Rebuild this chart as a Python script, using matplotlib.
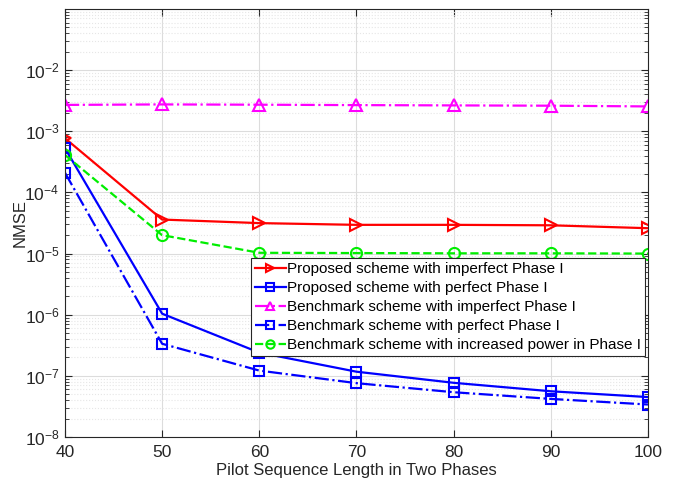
import matplotlib
matplotlib.use("Agg")
import matplotlib.pyplot as plt
import numpy as np

pilot_len = [40, 50, 60, 70, 80, 90, 100]
proposed_imperfect = [7.7e-4, 3.6e-5, 3.15e-5, 2.95e-5, 2.95e-5, 2.9e-5, 2.6e-5]
proposed_perfect = [5.3e-4, 1.04e-6, 2.4e-7, 1.17e-7, 7.7e-8, 5.6e-8, 4.5e-8]
benchmark_imperfect = [2.7e-3, 2.75e-3, 2.72e-3, 2.68e-3, 2.65e-3, 2.62e-3, 2.55e-3]
benchmark_perfect = [2.1e-4, 3.35e-7, 1.22e-7, 7.6e-8, 5.4e-8, 4.2e-8, 3.4e-8]
benchmark_increased = [4.1e-4, 2.0e-5, 1.03e-5, 1.02e-5, 1.01e-5, 1.01e-5, 1.0e-5]

labels = [
    "Proposed scheme with imperfect Phase I",
    "Proposed scheme with perfect Phase I",
    "Benchmark scheme with imperfect Phase I",
    "Benchmark scheme with perfect Phase I",
    "Benchmark scheme with increased power in Phase I",
]

plt.rcParams['font.family'] = ['Liberation Sans', 'DejaVu Sans']
plt.rcParams['mathtext.fontset'] = 'custom'
plt.rcParams['mathtext.rm'] = 'Liberation Sans'
plt.rcParams['mathtext.it'] = 'Liberation Sans'
plt.rcParams['mathtext.default'] = 'regular'

fig = plt.figure(figsize=(6.81, 4.86), dpi=100)
ax = fig.add_axes([0.0954, 0.1008, 0.8561, 0.8807])

lw = 1.6
ms = 8
ax.plot(pilot_len, proposed_imperfect, color='#ff0000', ls='-', marker='>', mfc='none', mew=1.5, ms=ms, lw=lw, label=labels[0])
ax.plot(pilot_len, proposed_perfect, color='#0000ff', ls='-', marker='s', mfc='none', mew=1.5, ms=7, lw=lw, label=labels[1])
ax.plot(pilot_len, benchmark_imperfect, color='#ff00ff', ls='-.', marker='^', mfc='none', mew=1.5, ms=ms, lw=lw, label=labels[2])
ax.plot(pilot_len, benchmark_perfect, color='#0000ff', ls='-.', marker='s', mfc='none', mew=1.5, ms=7, lw=lw, label=labels[3])
ax.plot(pilot_len, benchmark_increased, color='#00ee00', ls='--', marker='o', mfc='none', mew=1.5, ms=ms, lw=lw, label=labels[4])

ax.set_yscale('log')
ax.set_ylim(1e-8, 1e-1)
ax.set_xlim(40, 100)
ax.set_xticks(pilot_len)
ax.set_yticks([1e-8, 1e-7, 1e-6, 1e-5, 1e-4, 1e-3, 1e-2])
ax.set_yticklabels([r'$10^{-8}$', r'$10^{-7}$', r'$10^{-6}$', r'$10^{-5}$', r'$10^{-4}$', r'$10^{-3}$', r'$10^{-2}$'])

ax.grid(True, which='major', color='#dcdcdc', lw=0.8)
ax.grid(True, which='minor', axis='y', color='#e6e6e6', ls=':', lw=0.8)
ax.tick_params(which='both', direction='in', top=True, right=True, labelsize=12.5, colors='#262626')
ax.tick_params(which='major', length=5)
ax.tick_params(which='minor', length=3)
ax.tick_params(axis='x', pad=6)
ax.tick_params(axis='y', pad=4)
for s in ax.spines.values():
    s.set_color('#262626')
    s.set_linewidth(0.8)

ax.set_xlabel('Pilot Sequence Length in Two Phases', fontsize=12, color='#262626', labelpad=2)
ax.set_ylabel('NMSE', fontsize=12, color='#262626', labelpad=-2)

leg = ax.legend(loc='upper left', bbox_to_anchor=(0.3195, 0.418), fontsize=11, frameon=True,
                fancybox=False, edgecolor='#262626', framealpha=1, borderpad=0.25,
                labelspacing=0.33, handlelength=2.0, handletextpad=0.1, borderaxespad=0,
                markerscale=0.75)
leg.get_frame().set_linewidth(0.8)

fig.savefig('out.png', dpi=100)
